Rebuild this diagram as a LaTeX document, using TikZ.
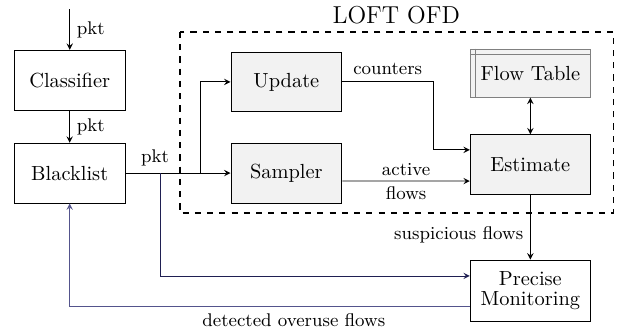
\documentclass[tikz,border=0pt]{standalone}
\usepackage{amsmath}
\usepackage{xcolor}
\usepackage{tikz}
\usetikzlibrary{calc, positioning}

\definecolor{navyline}{rgb}{0.12,0.12,0.32}
\definecolor{feedline}{rgb}{0.33,0.33,0.55}

\tikzset{
	block/.style = {draw, thin, fill = white, minimum width = 1.91cm, minimum height = 1.03cm, align = center, inner sep = 1pt},
	ofdblock/.style = {block, fill = gray!10, minimum width = 2.07cm},
	lbl/.style = {font = \small},
}

\begin{document}
\begin{tikzpicture}
		\useasboundingbox (0,0) rectangle (10.69,-5.665);
		
		\node [block] (cls) at (1.20,-1.38) {Classifier};
		\node [block] (bl) at (1.20,-2.98) {Blacklist};
		\node [ofdblock, minimum width = 1.91cm] (upd) at (4.93,-1.41) {Update};
		\node [ofdblock, minimum width = 1.91cm] (smp) at (4.93,-2.98) {Sampler};
		\node [ofdblock, draw = gray, minimum height = 0.83cm] (ftab) at (9.13,-1.26) {Flow Table};
		\node [ofdblock, minimum height = 1.02cm] (est) at (9.13,-2.83) {Estimate};
		\node [block, minimum width = 2.07cm, minimum height = 1.05cm] (pm) at (9.13,-5.00) {Precise\\[-2pt]Monitoring};
		
		\coordinate (in) at (1.20,-0.155);
		\coordinate (split) at (3.444,-2.98);
		\coordinate (tap) at (2.755,-2.98);
		
		% table lines
		\begin{scope}[gray]
			\draw ([yshift = -0.1cm]ftab.north west) -- ([yshift = -0.1cm]ftab.north east);
			\draw ([xshift = 0.09cm]ftab.north west) -- ([xshift = 0.09cm]ftab.south west);
		\end{scope}
		
		% LOFT OFD
		\draw [dashed, thick] (3.10,-0.55) rectangle (10.56,-3.67);
		\node [font = \large] (ofd) at (6.82,-0.26) {LOFT OFD};
		
		\begin{scope}[-stealth]
			\draw (in) -- (cls) node [midway, right, lbl] {pkt};
			\draw (cls) -- (bl) node [midway, right, lbl] {pkt};
			\draw (bl) -- (smp) node [pos = 0.28, above, lbl] {pkt};
			\draw (split) |- (upd);
			\draw (upd.east) -| (7.456,-2.58) node [pos = 0.25, above, lbl] {counters} -- ([yshift = 0.25cm]est.west);
			\draw (smp.east |- 0,-3.117) -- ([yshift = -0.287cm]est.west) node [midway, above, lbl, yshift = -1pt] {active} node [midway, below, lbl, yshift = 1pt] {flows};
			\draw (est) -- (pm) node [pos = 0.62, left, lbl] {suspicious flows};
			\draw [navyline] (tap) |- ([yshift = 0.25cm]pm.west);
			\draw [feedline] ([yshift = -0.27cm]pm.west) -| (bl) node [pos = 0.22, below, lbl, text = black] {detected overuse flows};
		\end{scope}
		\draw [stealth-stealth] (ftab) -- (est);
	\end{tikzpicture}
\end{document}
